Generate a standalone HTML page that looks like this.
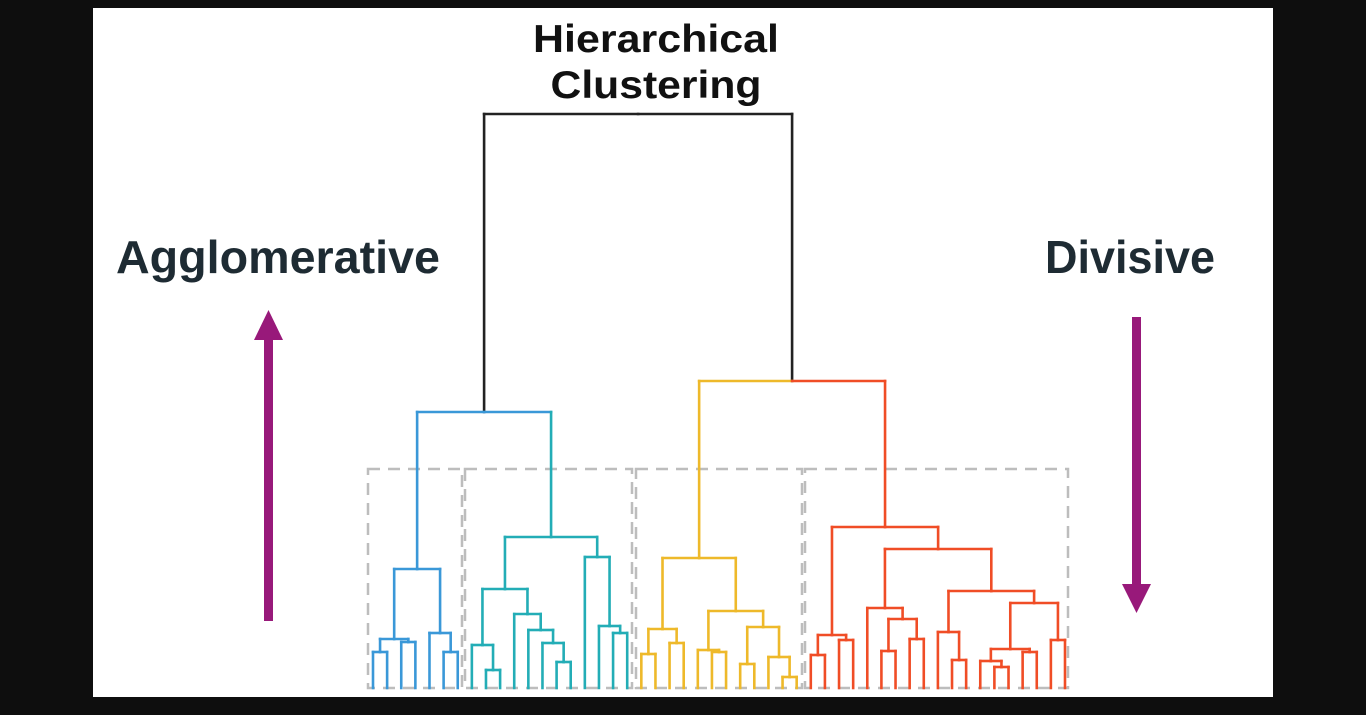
<!DOCTYPE html>
<html><head><meta charset="utf-8"><style>
html,body{margin:0;padding:0;background:#0e0e0e;width:1366px;height:715px;overflow:hidden}
svg{display:block}
</style></head><body>
<svg id="chart" width="1366" height="715" viewBox="0 0 1366 715" xmlns="http://www.w3.org/2000/svg">
<rect x="0" y="0" width="1366" height="715" fill="#0e0e0e"/>
<rect x="93" y="8" width="1180" height="689" fill="#ffffff"/>
<g font-family="Liberation Sans, sans-serif" font-weight="bold">
<text x="656" y="52" text-anchor="middle" font-size="39" fill="#111" textLength="246" lengthAdjust="spacingAndGlyphs">Hierarchical</text>
<text x="656" y="98" text-anchor="middle" font-size="39" fill="#111" textLength="211" lengthAdjust="spacingAndGlyphs">Clustering</text>
</g>
<text x="116" y="273" font-family="Liberation Sans, sans-serif" font-weight="bold" font-size="46" fill="#1e2b33" textLength="324" lengthAdjust="spacingAndGlyphs">Agglomerative</text>
<text x="1045" y="273" font-family="Liberation Sans, sans-serif" font-weight="bold" font-size="46" fill="#1e2b33" textLength="170" lengthAdjust="spacingAndGlyphs">Divisive</text>
<g>
<rect x="264" y="334" width="9" height="287" fill="#98197a"/>
<polygon points="268.5,310 254,340 283,340" fill="#98197a"/>
</g>
<g>
<rect x="1132" y="317" width="9" height="270" fill="#98197a"/>
<polygon points="1136.5,613 1122,584 1151,584" fill="#98197a"/>
</g>
<g id="boxes"></g>
<g id="dendro"></g>
</svg>
<script>
// Leaf clusters (in order left to right)
const leafClusters = ["b","b","b","b","b","b","b",
 "t","t","t","t","t","t","t","t","t","t","t","t",
 "y","y","y","y","y","y","y","y","y","y","y","y",
 "r","r","r","r","r","r","r","r","r","r","r","r","r","r","r","r","r","r","r"];
// merge tree: [left, right, distance]; numbers are leaf indices
const blueTree = [[[[0,1,36],[2,3,46],49],[4,[5,6,36],55],119],
  [[[7,[8,9,18],43],[10,[11,[12,[13,14,26],45],58],74],99],[15,[16,[17,18,55],62],131],151],276];
const yellowTree = [[[19,20,34],[21,22,45],59],[[23,[24,25,36],38],[[26,27,24],[28,[29,30,11],31],61],77],130];
const redTree = [[[31,32,33],[33,34,48],53],
  [[35,[[36,37,37],[38,39,49],69],80],[[40,[41,42,28],56],[[[43,[44,45,21],27],[46,47,36],39],[48,49,48],85],97],139],161];
const rootTree = [blueTree,[yellowTree,redTree,307],574];
const boxBounds = [[368,462],[465,632],[636,802],[805,1068]];

const colors = {b:"#3a98d8",t:"#23adb6",y:"#eeb92a",r:"#f04d26",k:"#222"};
const NS="http://www.w3.org/2000/svg";
const x0=373, x1=1065, yBase=688, yScale=1;
const xLeaf = i => x0 + (x1-x0)*i/(leafClusters.length-1);
const yDist = d => yBase - d*yScale;
const g=document.getElementById('dendro');

function cl(n){ if(typeof n==="number") return leafClusters[n];
  const a=cl(n[0]), b=cl(n[1]); if(a===b) return a; if((a==="b"||a==="t")&&(b==="b"||b==="t")) return "b"; return "k"; }
function pos(n){ return typeof n==="number" ? {x:xLeaf(n),y:yBase} : {x:(pos(n[0]).x+pos(n[1]).x)/2,y:yDist(n[2])}; }
function line(xa,ya,xb,yb,c){
  const l=document.createElementNS(NS,'line');
  l.setAttribute('x1',xa);l.setAttribute('y1',ya);l.setAttribute('x2',xb);l.setAttribute('y2',yb);
  l.setAttribute('stroke',c);l.setAttribute('stroke-width','2.6');l.setAttribute('stroke-linecap','square');
  
  
  g.appendChild(l);
}
function draw(n){
  if(typeof n==="number") return;
  const p=pos(n), parentCol=cl(n);
  [n[0],n[1]].forEach(ch=>{
    const c=pos(ch); let col=colors[cl(ch)];
    if(parentCol==="b" && cl(ch)==="t") col=colors.t;
    if(n===rootTree) col=colors.k;
    line(c.x,p.y,p.x,p.y,(n===blueTree)?colors.b:col);
    line(c.x,p.y,c.x,c.y,col);
    draw(ch);
  });
}
draw(rootTree);

const bg=document.getElementById('boxes');
boxBounds.forEach(b=>{
  const r=document.createElementNS(NS,'rect');
  r.setAttribute('x',b[0]);r.setAttribute('y',469);r.setAttribute('width',b[1]-b[0]);r.setAttribute('height',219);
  r.setAttribute('fill','none');r.setAttribute('stroke','#bdbdbd');r.setAttribute('stroke-width','2.5');r.setAttribute('stroke-dasharray','12 8');
  
  
  bg.appendChild(r);
});
</script>
</body></html>
